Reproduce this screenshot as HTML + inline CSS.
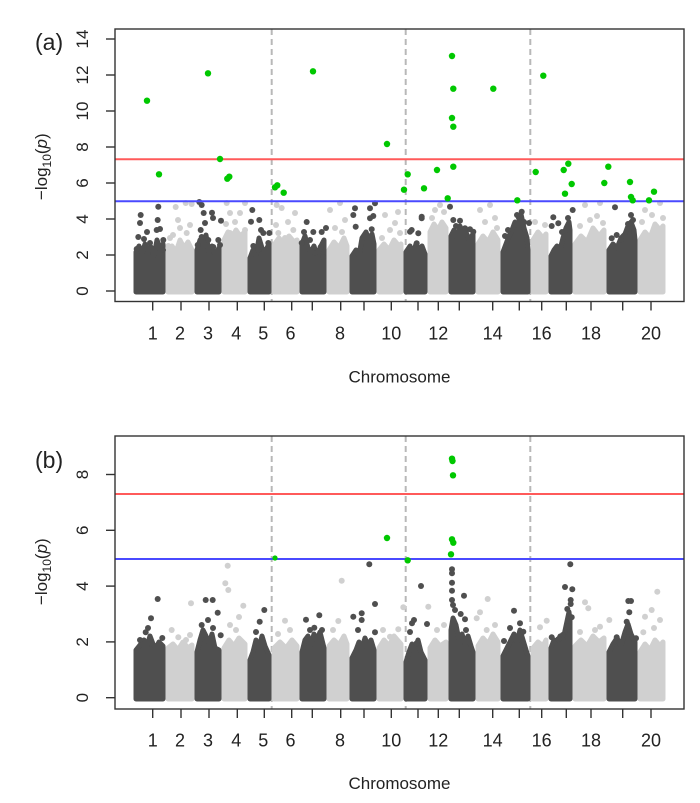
<!DOCTYPE html>
<html><head><meta charset="utf-8"><style>
html,body{margin:0;padding:0;background:#fff;}
svg{display:block;}
text{font-family:"Liberation Sans",Arial,sans-serif;fill:#222;}
.d{fill:#4f4f4f;stroke:#4f4f4f;stroke-width:5;stroke-linejoin:round;}
.l{fill:#d0d0d0;stroke:#d0d0d0;stroke-width:5;stroke-linejoin:round;}
.dc circle{fill:#4f4f4f;}
.lc circle{fill:#d0d0d0;}
.g circle{fill:#00c800;}
.ax{stroke:#333;stroke-width:1.4;fill:none;}
.dash{stroke:#b8b8b8;stroke-width:2;stroke-dasharray:6 4;}
</style></head><body>
<svg width="700" height="803" viewBox="0 0 700 803" xmlns="http://www.w3.org/2000/svg">
<rect width="700" height="803" fill="#fff"/>

<!-- ================= PANEL A ================= -->
<g>
<line class="dash" x1="271.7" y1="29" x2="271.7" y2="301.5"/>
<line class="dash" x1="405.7" y1="29" x2="405.7" y2="301.5"/>
<line class="dash" x1="530.3" y1="29" x2="530.3" y2="301.5"/>
<!-- light bodies -->
<path class="l" d="M168,292 L168,250 L172,246 L176,252 L180,240 L184,248 L188,242 L192,250 L192,292 Z"/>
<path class="l" d="M224,292 L224,240 L228,232 L232,238 L236,230 L240,236 L245,232 L245,292 Z"/>
<path class="l" d="M274,292 L274,245 L279,238 L284,244 L289,236 L294,242 L297,240 L297,292 Z"/>
<path class="l" d="M329,292 L329,250 L334,242 L339,248 L344,238 L347,246 L347,292 Z"/>
<path class="l" d="M379,292 L379,250 L384,244 L389,250 L394,240 L399,246 L401,244 L401,292 Z"/>
<path class="l" d="M430,292 L430,232 L434,224 L438,230 L442,222 L446,228 L446,292 Z"/>
<path class="l" d="M478,292 L478,244 L483,236 L488,242 L493,232 L498,240 L498,292 Z"/>
<path class="l" d="M533,292 L533,240 L538,232 L543,238 L546,234 L546,292 Z"/>
<path class="l" d="M575,292 L575,244 L581,236 L587,242 L593,228 L599,236 L604,230 L604,292 Z"/>
<path class="l" d="M640,292 L640,240 L645,232 L650,238 L655,224 L660,230 L663,226 L663,292 Z"/>
<g class="lc">
<circle cx="175.7" cy="207" r="3"/><circle cx="180" cy="228" r="3"/><circle cx="173" cy="235" r="3"/><circle cx="185.7" cy="203" r="3"/><circle cx="191.7" cy="204" r="3"/><circle cx="168.3" cy="246" r="3"/><circle cx="186.7" cy="233" r="3"/><circle cx="178" cy="220" r="3"/><circle cx="190" cy="225" r="3"/><circle cx="170" cy="238" r="3"/>
<circle cx="226.7" cy="203" r="3"/><circle cx="230" cy="213" r="3"/><circle cx="240" cy="213" r="3"/><circle cx="245" cy="203" r="3"/><circle cx="230" cy="233" r="3"/><circle cx="245" cy="230" r="3"/><circle cx="235" cy="222" r="3"/><circle cx="226" cy="224" r="3"/>
<circle cx="276.7" cy="205" r="3"/><circle cx="281.7" cy="208" r="3"/><circle cx="295" cy="213" r="3"/><circle cx="285" cy="238" r="3"/><circle cx="278.3" cy="233" r="3"/><circle cx="293.3" cy="230" r="3"/><circle cx="288" cy="222" r="3"/><circle cx="276" cy="225" r="3"/>
<circle cx="330" cy="210" r="3"/><circle cx="340" cy="203" r="3"/><circle cx="345" cy="220" r="3"/><circle cx="335" cy="228" r="3"/><circle cx="342" cy="232" r="3"/>
<circle cx="385" cy="215" r="3"/><circle cx="395" cy="223" r="3"/><circle cx="390" cy="230" r="3"/><circle cx="400" cy="233" r="3"/><circle cx="382" cy="238" r="3"/><circle cx="398" cy="212" r="3"/>
<circle cx="435" cy="210" r="3"/><circle cx="444" cy="212" r="3"/><circle cx="432" cy="218" r="3"/><circle cx="440" cy="205" r="3"/>
<circle cx="480" cy="210" r="3"/><circle cx="490" cy="205" r="3"/><circle cx="485" cy="222" r="3"/><circle cx="495" cy="218" r="3"/><circle cx="497" cy="228" r="3"/>
<circle cx="535" cy="222" r="3"/><circle cx="545" cy="225" r="3"/>
<circle cx="585" cy="205" r="3"/><circle cx="600" cy="203" r="3"/><circle cx="590" cy="220" r="3"/><circle cx="580" cy="226" r="3"/><circle cx="597" cy="216" r="3"/><circle cx="603" cy="223" r="3"/>
<circle cx="645" cy="210" r="3"/><circle cx="660" cy="203" r="3"/><circle cx="652" cy="215" r="3"/><circle cx="663" cy="218" r="3"/><circle cx="642" cy="222" r="3"/>
</g>
<!-- dark bodies -->
<path class="d" d="M136,292 L136,252 L139,246 L142,254 L145,244 L148,250 L151,247 L154,256 L157,240 L160,248 L163,244 L163,292 Z"/>
<path class="d" d="M197,292 L197,250 L200,240 L203,248 L206,235 L209,252 L212,246 L215,255 L219,248 L219,292 Z"/>
<path class="d" d="M250,292 L250,258 L253,250 L256,256 L259,238 L262,248 L265,252 L269,244 L269,292 Z"/>
<path class="d" d="M302,292 L302,244 L305,236 L308,248 L311,252 L314,246 L317,256 L320,248 L324,240 L324,292 Z"/>
<path class="d" d="M352,292 L352,256 L356,250 L359,256 L362,238 L366,232 L369,240 L372,234 L374,244 L374,292 Z"/>
<path class="d" d="M406,292 L406,252 L410,246 L413,254 L416,244 L419,250 L422,246 L425,254 L425,292 Z"/>
<path class="d" d="M451,292 L451,236 L454,230 L457,238 L460,226 L463,236 L466,232 L469,240 L473,234 L473,292 Z"/>
<path class="d" d="M503,292 L503,252 L506,244 L509,236 L512,230 L515,222 L518,226 L521,214 L524,228 L527,238 L528,250 L528,292 Z"/>
<path class="d" d="M551,292 L551,256 L554,250 L557,246 L560,250 L563,238 L566,228 L569,222 L570,230 L570,292 Z"/>
<path class="d" d="M609,292 L609,250 L613,244 L617,248 L621,238 L625,234 L628,226 L631,222 L634,230 L635,240 L635,292 Z"/>
<g class="dc">
<circle cx="140.7" cy="215" r="3"/><circle cx="140" cy="223" r="3"/><circle cx="158.3" cy="206.7" r="3"/><circle cx="157.7" cy="220" r="3"/><circle cx="156.7" cy="230" r="3"/><circle cx="138.3" cy="237" r="3"/><circle cx="144" cy="239" r="3"/><circle cx="150" cy="243" r="3"/><circle cx="163.3" cy="240" r="3"/><circle cx="160" cy="229" r="3"/><circle cx="136.7" cy="249" r="3"/><circle cx="163" cy="250" r="3"/><circle cx="147" cy="232" r="3"/>
<circle cx="199.3" cy="202" r="3"/><circle cx="201.7" cy="205" r="3"/><circle cx="203.7" cy="213" r="3"/><circle cx="212" cy="212.7" r="3"/><circle cx="213" cy="218" r="3"/><circle cx="221" cy="220.7" r="3"/><circle cx="200.7" cy="230" r="3"/><circle cx="201.7" cy="237" r="3"/><circle cx="208.3" cy="240" r="3"/><circle cx="218.3" cy="240" r="3"/><circle cx="220" cy="245" r="3"/><circle cx="197.7" cy="245" r="3"/><circle cx="213.3" cy="247" r="3"/><circle cx="205" cy="223" r="3"/>
<circle cx="252.3" cy="210" r="3"/><circle cx="251" cy="221.7" r="3"/><circle cx="259.3" cy="220" r="3"/><circle cx="261" cy="230" r="3"/><circle cx="263.3" cy="233" r="3"/><circle cx="253.3" cy="246" r="3"/><circle cx="269.3" cy="233" r="3"/><circle cx="258.3" cy="250" r="3"/><circle cx="268.3" cy="243" r="3"/>
<circle cx="306.7" cy="222" r="3"/><circle cx="313.3" cy="232" r="3"/><circle cx="321.7" cy="232" r="3"/><circle cx="326" cy="228" r="3"/><circle cx="304" cy="232" r="3"/><circle cx="301.7" cy="243" r="3"/><circle cx="310" cy="240" r="3"/><circle cx="320.7" cy="247" r="3"/><circle cx="315" cy="253" r="3"/><circle cx="323.3" cy="257" r="3"/>
<circle cx="355" cy="208.3" r="3"/><circle cx="353.3" cy="215" r="3"/><circle cx="370" cy="208.3" r="3"/><circle cx="375" cy="203.3" r="3"/><circle cx="370" cy="218.3" r="3"/><circle cx="373.3" cy="216" r="3"/><circle cx="355.7" cy="226.7" r="3"/><circle cx="371.7" cy="229.3" r="3"/>
<circle cx="421.7" cy="216.7" r="3"/><circle cx="410" cy="231.7" r="3"/><circle cx="418.3" cy="233.3" r="3"/><circle cx="416.7" cy="243.3" r="3"/><circle cx="411.7" cy="230" r="3"/><circle cx="421.7" cy="218.3" r="3"/>
<circle cx="450" cy="206.7" r="3"/><circle cx="453.3" cy="220" r="3"/><circle cx="460" cy="220.7" r="3"/><circle cx="473.3" cy="231.7" r="3"/><circle cx="465" cy="228.3" r="3"/><circle cx="470" cy="229.3" r="3"/><circle cx="456" cy="226" r="3"/>
<circle cx="521.7" cy="211.7" r="3"/><circle cx="519" cy="218" r="3"/><circle cx="524" cy="222" r="3"/><circle cx="508" cy="230" r="3"/><circle cx="505" cy="236" r="3"/><circle cx="529" cy="223" r="3"/><circle cx="517" cy="215" r="3"/>
<circle cx="572.7" cy="210" r="3"/><circle cx="553.3" cy="217.3" r="3"/><circle cx="558.3" cy="223.3" r="3"/><circle cx="551.7" cy="226" r="3"/><circle cx="562" cy="232" r="3"/><circle cx="568" cy="218" r="3"/>
<circle cx="615" cy="207.3" r="3"/><circle cx="611.7" cy="238.3" r="3"/><circle cx="616.7" cy="235" r="3"/><circle cx="631" cy="215" r="3"/><circle cx="628" cy="224" r="3"/><circle cx="633" cy="220" r="3"/><circle cx="621" cy="240" r="3"/>
</g>
<!-- thresholds -->
<line x1="115" y1="159.3" x2="684" y2="159.3" stroke="#ff5a5a" stroke-width="2"/>
<line x1="115" y1="201.3" x2="684" y2="201.3" stroke="#4a4aff" stroke-width="2"/>
<!-- green -->
<g class="g">
<circle cx="147" cy="100.7" r="3.2"/><circle cx="159" cy="174.3" r="3.2"/><circle cx="208" cy="73.3" r="3.2"/><circle cx="220" cy="159" r="3.2"/><circle cx="227.3" cy="178.7" r="3.2"/><circle cx="229.3" cy="176.7" r="3.2"/><circle cx="275" cy="187.3" r="3.2"/><circle cx="277.3" cy="185.3" r="3.2"/><circle cx="283.7" cy="192.7" r="3.2"/><circle cx="313" cy="71.3" r="3.2"/>
<circle cx="387" cy="144" r="3.2"/><circle cx="404" cy="189.7" r="3.2"/><circle cx="407.7" cy="174.3" r="3.2"/><circle cx="424" cy="188.3" r="3.2"/><circle cx="437" cy="170" r="3.2"/><circle cx="447.7" cy="198.3" r="3.2"/><circle cx="452" cy="56" r="3.2"/><circle cx="453.3" cy="88.7" r="3.2"/><circle cx="452" cy="118" r="3.2"/><circle cx="453.3" cy="126.7" r="3.2"/><circle cx="453.3" cy="166.7" r="3.2"/><circle cx="493.3" cy="88.7" r="3.2"/><circle cx="517.3" cy="200.3" r="3.2"/><circle cx="535.7" cy="172" r="3.2"/><circle cx="543.3" cy="75.7" r="3.2"/><circle cx="563.7" cy="170" r="3.2"/><circle cx="568.3" cy="163.7" r="3.2"/><circle cx="565" cy="193.7" r="3.2"/><circle cx="571.7" cy="184" r="3.2"/><circle cx="604.3" cy="183" r="3.2"/><circle cx="608.3" cy="166.7" r="3.2"/><circle cx="630" cy="182" r="3.2"/><circle cx="631" cy="197" r="3.2"/><circle cx="632.7" cy="200.3" r="3.2"/><circle cx="649" cy="200.3" r="3.2"/><circle cx="654" cy="191.7" r="3.2"/>
</g>
<!-- box & axes -->
<rect class="ax" x="115" y="29" width="569" height="272.5"/>
<g class="ax">
<line x1="106" y1="291" x2="115" y2="291"/><line x1="106" y1="255" x2="115" y2="255"/><line x1="106" y1="219" x2="115" y2="219"/><line x1="106" y1="183" x2="115" y2="183"/><line x1="106" y1="147" x2="115" y2="147"/><line x1="106" y1="111" x2="115" y2="111"/><line x1="106" y1="75" x2="115" y2="75"/><line x1="106" y1="39" x2="115" y2="39"/>
<line x1="152.7" y1="301.5" x2="152.7" y2="310.5"/><line x1="181" y1="301.5" x2="181" y2="310.5"/><line x1="209" y1="301.5" x2="209" y2="310.5"/><line x1="237.3" y1="301.5" x2="237.3" y2="310.5"/><line x1="264.3" y1="301.5" x2="264.3" y2="310.5"/><line x1="291.7" y1="301.5" x2="291.7" y2="310.5"/><line x1="312.3" y1="301.5" x2="312.3" y2="310.5"/><line x1="340.7" y1="301.5" x2="340.7" y2="310.5"/><line x1="364" y1="301.5" x2="364" y2="310.5"/><line x1="391.3" y1="301.5" x2="391.3" y2="310.5"/><line x1="418" y1="301.5" x2="418" y2="310.5"/><line x1="438.3" y1="301.5" x2="438.3" y2="310.5"/><line x1="459.3" y1="301.5" x2="459.3" y2="310.5"/><line x1="492.7" y1="301.5" x2="492.7" y2="310.5"/><line x1="519.3" y1="301.5" x2="519.3" y2="310.5"/><line x1="541.7" y1="301.5" x2="541.7" y2="310.5"/><line x1="566.3" y1="301.5" x2="566.3" y2="310.5"/><line x1="591" y1="301.5" x2="591" y2="310.5"/><line x1="622.7" y1="301.5" x2="622.7" y2="310.5"/><line x1="651" y1="301.5" x2="651" y2="310.5"/>
</g>
<g font-size="17" text-anchor="middle">
<text transform="translate(88,291) rotate(-90)">0</text>
<text transform="translate(88,255) rotate(-90)">2</text>
<text transform="translate(88,219) rotate(-90)">4</text>
<text transform="translate(88,183) rotate(-90)">6</text>
<text transform="translate(88,147) rotate(-90)">8</text>
<text transform="translate(88,111) rotate(-90)">10</text>
<text transform="translate(88,75) rotate(-90)">12</text>
<text transform="translate(88,39) rotate(-90)">14</text>
</g>
<g font-size="18" text-anchor="middle">
<text x="152.7" y="339.5">1</text><text x="180" y="339.5">2</text><text x="208" y="339.5">3</text><text x="236.3" y="339.5">4</text><text x="263.3" y="339.5">5</text><text x="290.5" y="339.5">6</text><text x="340" y="339.5">8</text><text x="391.3" y="339.5">10</text><text x="438.3" y="339.5">12</text><text x="492.7" y="339.5">14</text><text x="541.7" y="339.5">16</text><text x="591" y="339.5">18</text><text x="651" y="339.5">20</text>
</g>
<text x="399.5" y="382.5" font-size="17" text-anchor="middle">Chromosome</text>
<text transform="translate(47,166.7) rotate(-90)" font-size="17" text-anchor="middle">−log<tspan font-size="12" dy="4">10</tspan><tspan dy="-4">(</tspan><tspan font-style="italic">p</tspan>)</text>
<text x="35" y="50" font-size="23">(a)</text>
</g>

<!-- ================= PANEL B ================= -->
<g>
<line class="dash" x1="271.7" y1="436" x2="271.7" y2="709"/>
<line class="dash" x1="405.7" y1="436" x2="405.7" y2="709"/>
<line class="dash" x1="530.3" y1="436" x2="530.3" y2="709"/>
<path class="l" d="M168,699 L168,648 L173,644 L178,650 L183,642 L188,648 L192,645 L192,699 Z"/>
<path class="l" d="M224,699 L224,648 L229,640 L234,646 L239,638 L245,644 L245,699 Z"/>
<path class="l" d="M274,699 L274,648 L280,642 L286,648 L292,640 L297,646 L297,699 Z"/>
<path class="l" d="M329,699 L329,646 L334,640 L339,645 L344,636 L347,644 L347,699 Z"/>
<path class="l" d="M379,699 L379,648 L384,640 L389,646 L394,636 L401,644 L401,699 Z"/>
<path class="l" d="M430,699 L430,648 L435,640 L440,646 L446,642 L446,699 Z"/>
<path class="l" d="M478,699 L478,646 L483,638 L488,644 L493,634 L498,642 L498,699 Z"/>
<path class="l" d="M533,699 L533,648 L538,642 L543,646 L546,640 L546,699 Z"/>
<path class="l" d="M575,699 L575,646 L581,640 L587,646 L593,636 L599,642 L604,638 L604,699 Z"/>
<path class="l" d="M640,699 L640,652 L645,644 L650,650 L655,640 L660,646 L663,642 L663,699 Z"/>
<g class="lc">
<circle cx="171.7" cy="630" r="3"/><circle cx="178.3" cy="637.3" r="3"/><circle cx="186" cy="640" r="3"/><circle cx="190" cy="635" r="3"/>
<circle cx="227.7" cy="565.7" r="3"/><circle cx="225.3" cy="583.3" r="3"/><circle cx="228.3" cy="590" r="3"/><circle cx="191" cy="603.3" r="3"/><circle cx="243.3" cy="605.7" r="3"/><circle cx="239" cy="617" r="3"/><circle cx="230" cy="625" r="3"/><circle cx="236" cy="630" r="3"/>
<circle cx="285" cy="620.7" r="3"/><circle cx="290" cy="630" r="3"/><circle cx="278" cy="634" r="3"/>
<circle cx="338.3" cy="621" r="3"/><circle cx="341.7" cy="580.7" r="3"/><circle cx="333" cy="630" r="3"/>
<circle cx="403.3" cy="607.3" r="3"/><circle cx="398.3" cy="629.3" r="3"/><circle cx="390" cy="636.7" r="3"/><circle cx="383" cy="630" r="3"/>
<circle cx="428.3" cy="606.7" r="3"/><circle cx="437" cy="630" r="3"/><circle cx="444" cy="625" r="3"/>
<circle cx="487.7" cy="599" r="3"/><circle cx="480" cy="612.3" r="3"/><circle cx="476.7" cy="618.3" r="3"/><circle cx="486.7" cy="630" r="3"/><circle cx="495" cy="625" r="3"/>
<circle cx="546.7" cy="620.7" r="3"/><circle cx="540" cy="627.3" r="3"/>
<circle cx="585" cy="602.3" r="3"/><circle cx="588.3" cy="608.3" r="3"/><circle cx="609.3" cy="620" r="3"/><circle cx="600" cy="626.7" r="3"/><circle cx="595" cy="630" r="3"/><circle cx="580" cy="632" r="3"/>
<circle cx="657.3" cy="591.7" r="3"/><circle cx="651.7" cy="610" r="3"/><circle cx="645" cy="616.7" r="3"/><circle cx="660" cy="620" r="3"/><circle cx="643.3" cy="632.3" r="3"/><circle cx="654" cy="628" r="3"/>
</g>
<path class="d" d="M136,699 L136,650 L140,645 L144,640 L147,646 L150,636 L153,644 L156,648 L159,642 L163,646 L163,699 Z"/>
<path class="d" d="M197,699 L197,652 L200,640 L203,630 L206,636 L209,644 L212,634 L215,648 L219,650 L219,699 Z"/>
<path class="d" d="M250,699 L250,660 L253,652 L256,640 L259,648 L262,636 L265,646 L269,655 L269,699 Z"/>
<path class="d" d="M302,699 L302,652 L305,640 L308,636 L311,645 L314,634 L317,640 L320,632 L324,648 L324,699 Z"/>
<path class="d" d="M352,699 L352,658 L356,650 L359,642 L362,648 L365,638 L368,646 L371,640 L374,650 L374,699 Z"/>
<path class="d" d="M406,699 L406,662 L409,652 L412,644 L415,650 L418,640 L421,652 L425,660 L425,699 Z"/>
<path class="d" d="M451,699 L451,630 L453,618 L456,625 L459,640 L462,634 L465,644 L468,636 L471,646 L473,652 L473,699 Z"/>
<path class="d" d="M503,699 L503,656 L507,648 L511,640 L514,634 L517,642 L520,630 L523,640 L526,650 L528,656 L528,699 Z"/>
<path class="d" d="M551,699 L551,648 L554,640 L557,644 L560,636 L563,640 L566,626 L569,612 L570,620 L570,699 Z"/>
<path class="d" d="M609,699 L609,652 L613,644 L617,638 L621,646 L625,632 L628,624 L631,634 L635,642 L635,699 Z"/>
<g class="dc">
<circle cx="157.7" cy="599" r="3"/><circle cx="151" cy="618.3" r="3"/><circle cx="145.7" cy="632.3" r="3"/><circle cx="162.3" cy="638" r="3"/><circle cx="140" cy="640" r="3"/><circle cx="148" cy="628" r="3"/>
<circle cx="205.7" cy="600" r="3"/><circle cx="212.7" cy="600" r="3"/><circle cx="217.7" cy="612.7" r="3"/><circle cx="201.7" cy="625" r="3"/><circle cx="220.7" cy="635.3" r="3"/><circle cx="208" cy="620" r="3"/><circle cx="213" cy="628" r="3"/>
<circle cx="264.3" cy="610" r="3"/><circle cx="259.7" cy="621.7" r="3"/><circle cx="256" cy="632" r="3"/>
<circle cx="306" cy="619.7" r="3"/><circle cx="319.3" cy="615.3" r="3"/><circle cx="314.3" cy="627.7" r="3"/><circle cx="310" cy="630" r="3"/><circle cx="322" cy="630" r="3"/>
<circle cx="369.3" cy="564.3" r="3"/><circle cx="375" cy="604" r="3"/><circle cx="353.3" cy="616.7" r="3"/><circle cx="361.7" cy="613.3" r="3"/><circle cx="361.7" cy="620" r="3"/><circle cx="375" cy="632.3" r="3"/><circle cx="358" cy="630" r="3"/>
<circle cx="421" cy="586" r="3"/><circle cx="412" cy="623.3" r="3"/><circle cx="427" cy="624" r="3"/><circle cx="416.7" cy="643.3" r="3"/><circle cx="410" cy="632" r="3"/><circle cx="414" cy="620" r="3"/>
<circle cx="452" cy="569.3" r="3"/><circle cx="452" cy="573.3" r="3"/><circle cx="452" cy="582.7" r="3"/><circle cx="452" cy="590.7" r="3"/><circle cx="452" cy="600" r="3"/><circle cx="464" cy="595.7" r="3"/><circle cx="460.7" cy="614" r="3"/><circle cx="465" cy="619.3" r="3"/><circle cx="466" cy="630" r="3"/><circle cx="455" cy="610" r="3"/><circle cx="453" cy="605" r="3"/>
<circle cx="514" cy="610.7" r="3"/><circle cx="520" cy="623.3" r="3"/><circle cx="523.3" cy="631.7" r="3"/><circle cx="504" cy="641" r="3"/><circle cx="510" cy="628" r="3"/>
<circle cx="570.3" cy="564.3" r="3"/><circle cx="565" cy="587" r="3"/><circle cx="572.3" cy="589.3" r="3"/><circle cx="570.7" cy="600" r="3"/><circle cx="570.7" cy="604" r="3"/><circle cx="567.3" cy="609" r="3"/><circle cx="571.7" cy="617.3" r="3"/><circle cx="568.3" cy="626.7" r="3"/><circle cx="551.7" cy="637.3" r="3"/><circle cx="558.3" cy="639.3" r="3"/><circle cx="562.7" cy="635" r="3"/>
<circle cx="628.3" cy="601" r="3"/><circle cx="629.3" cy="612.3" r="3"/><circle cx="626.7" cy="621.7" r="3"/><circle cx="629.3" cy="631.7" r="3"/><circle cx="616.7" cy="637.3" r="3"/><circle cx="636" cy="638.3" r="3"/><circle cx="631" cy="601" r="3"/>
</g>
<line x1="115" y1="494" x2="684" y2="494" stroke="#ff5a5a" stroke-width="2"/>
<line x1="115" y1="559" x2="684" y2="559" stroke="#4a4aff" stroke-width="2"/>
<g class="g">
<circle cx="275" cy="558" r="2.6"/><circle cx="452" cy="458.7" r="3.2"/><circle cx="452.5" cy="461" r="3.2"/><circle cx="453" cy="475.3" r="3.2"/><circle cx="387" cy="538" r="3.2"/><circle cx="452" cy="539.3" r="3.2"/><circle cx="453.3" cy="542.7" r="3.2"/><circle cx="451" cy="554.3" r="3.2"/><circle cx="407.7" cy="560.3" r="3.2"/>
</g>
<rect class="ax" x="115" y="436" width="569" height="273"/>
<g class="ax">
<line x1="106" y1="697.7" x2="115" y2="697.7"/><line x1="106" y1="641.9" x2="115" y2="641.9"/><line x1="106" y1="586.1" x2="115" y2="586.1"/><line x1="106" y1="530.3" x2="115" y2="530.3"/><line x1="106" y1="474.5" x2="115" y2="474.5"/>
<line x1="152.7" y1="709" x2="152.7" y2="718"/><line x1="181" y1="709" x2="181" y2="718"/><line x1="209" y1="709" x2="209" y2="718"/><line x1="237.3" y1="709" x2="237.3" y2="718"/><line x1="264.3" y1="709" x2="264.3" y2="718"/><line x1="291.7" y1="709" x2="291.7" y2="718"/><line x1="312.3" y1="709" x2="312.3" y2="718"/><line x1="340.7" y1="709" x2="340.7" y2="718"/><line x1="364" y1="709" x2="364" y2="718"/><line x1="391.3" y1="709" x2="391.3" y2="718"/><line x1="418" y1="709" x2="418" y2="718"/><line x1="438.3" y1="709" x2="438.3" y2="718"/><line x1="459.3" y1="709" x2="459.3" y2="718"/><line x1="492.7" y1="709" x2="492.7" y2="718"/><line x1="519.3" y1="709" x2="519.3" y2="718"/><line x1="541.7" y1="709" x2="541.7" y2="718"/><line x1="566.3" y1="709" x2="566.3" y2="718"/><line x1="591" y1="709" x2="591" y2="718"/><line x1="622.7" y1="709" x2="622.7" y2="718"/><line x1="651" y1="709" x2="651" y2="718"/>
</g>
<g font-size="17" text-anchor="middle">
<text transform="translate(88,697.7) rotate(-90)">0</text>
<text transform="translate(88,641.9) rotate(-90)">2</text>
<text transform="translate(88,586.1) rotate(-90)">4</text>
<text transform="translate(88,530.3) rotate(-90)">6</text>
<text transform="translate(88,474.5) rotate(-90)">8</text>
</g>
<g font-size="18" text-anchor="middle">
<text x="152.7" y="746.5">1</text><text x="180" y="746.5">2</text><text x="208" y="746.5">3</text><text x="236.3" y="746.5">4</text><text x="263.3" y="746.5">5</text><text x="290.5" y="746.5">6</text><text x="340" y="746.5">8</text><text x="391.3" y="746.5">10</text><text x="438.3" y="746.5">12</text><text x="492.7" y="746.5">14</text><text x="541.7" y="746.5">16</text><text x="591" y="746.5">18</text><text x="651" y="746.5">20</text>
</g>
<text x="399.5" y="789" font-size="17" text-anchor="middle">Chromosome</text>
<text transform="translate(47,571.7) rotate(-90)" font-size="17" text-anchor="middle">−log<tspan font-size="12" dy="4">10</tspan><tspan dy="-4">(</tspan><tspan font-style="italic">p</tspan>)</text>
<text x="35" y="468" font-size="23">(b)</text>
</g>
</svg>
</body></html>
